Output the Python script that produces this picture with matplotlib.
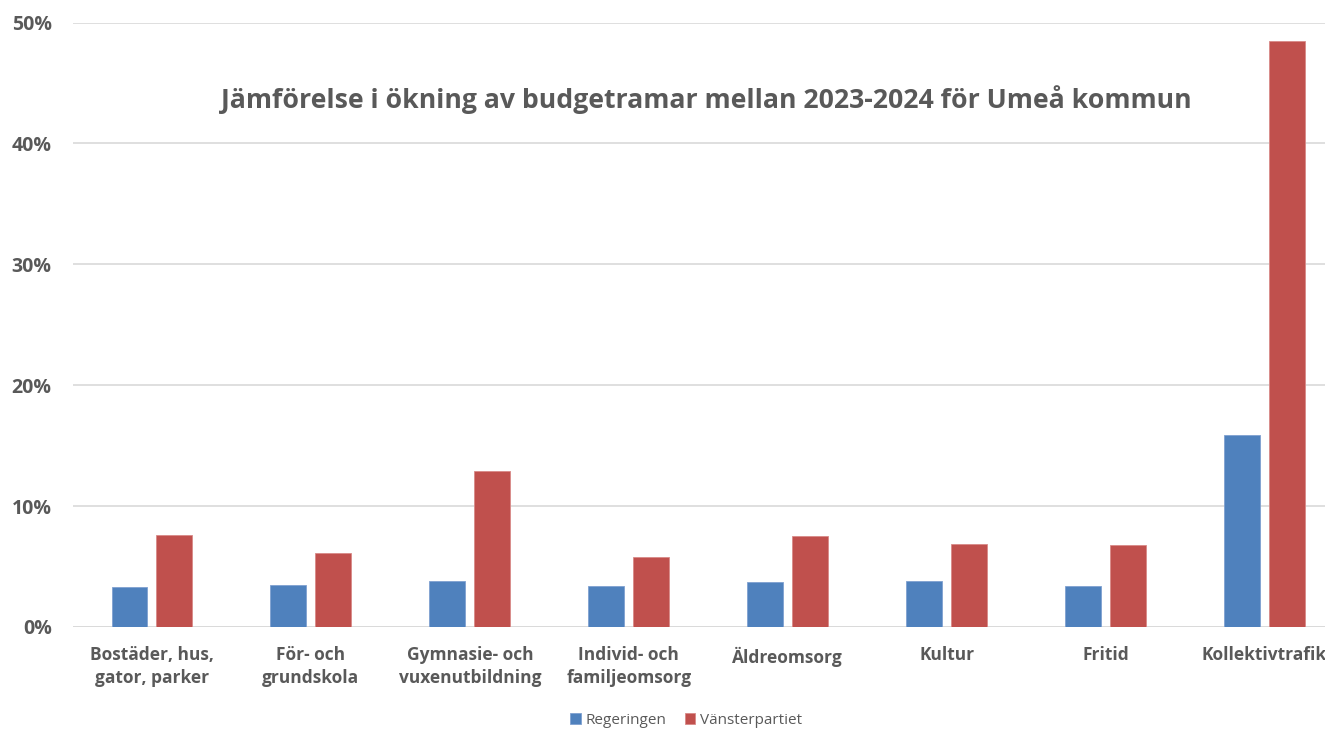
import matplotlib
matplotlib.use("Agg")
import matplotlib.pyplot as plt
import numpy as np
from matplotlib.ticker import FuncFormatter, MultipleLocator

categories = ["Bostäder, hus,\ngator, parker", "För- och\ngrundskola", "Gymnasie- och\nvuxenutbildning",
              "Individ- och\nfamiljeomsorg", "Äldreomsorg", "Kultur", "Fritid", "Kollektivtrafik"]
regeringen = [3.3, 3.5, 3.8, 3.4, 3.7, 3.8, 3.4, 15.9]
vansterpartiet = [7.6, 6.1, 12.9, 5.8, 7.5, 6.9, 6.75, 48.5]
series_names = ["Regeringen", "Vänsterpartiet"]
title = "Jämförelse i ökning av budgetramar mellan 2023-2024 för Umeå kommun"

plt.rcParams['font.family'] = ['Open Sans', 'DejaVu Sans']
W, H = 1325, 729
fig = plt.figure(figsize=(W / 100, H / 100), dpi=100)
left = 72.5 / W
right_px = 1344
ax = fig.add_axes([left, (H - 627) / H, (right_px - 72.5) / W, (627 - 22.5) / H])

x = np.arange(len(categories))
bw = 0.226
off = 0.1415
gray = "#595959"
ax.bar(x - off, regeringen, bw, color="#4F81BD", edgecolor="#7FA0D0", linewidth=0.6, label=series_names[0], zorder=3)
ax.bar(x + off, vansterpartiet, bw, color="#C0504D", edgecolor="#D98A88", linewidth=0.6, label=series_names[1], zorder=3)

ax.set_xlim(-0.5, len(categories) - 0.5)
ax.set_ylim(0, 50)
ax.yaxis.set_major_locator(MultipleLocator(10))
ax.yaxis.set_major_formatter(FuncFormatter(lambda v, p: f"{v:.0f}%"))
ax.grid(axis='y', color="#D9D9D9", linewidth=1.2, zorder=0)
for s in ax.spines.values():
    s.set_visible(False)
ax.axhline(0, color="#D9D9D9", linewidth=1.2, zorder=1)
ax.tick_params(axis='both', length=0)
ax.tick_params(axis='y', pad=15, labelsize=14, labelcolor=gray)
ax.tick_params(axis='x', pad=14, labelsize=12.5, labelcolor=gray)
ax.set_xticks(x)
ax.set_xticklabels(categories, linespacing=1.3)
for lbl in ax.get_xticklabels() + ax.get_yticklabels():
    lbl.set_fontweight('bold')

fig.text(706 / W, 1 - 100 / H, title, ha='center', va='center', fontsize=19.2,
         fontweight='bold', color=gray)

leg = fig.legend(loc='center', bbox_to_anchor=(686 / W, 1 - 720 / H), ncol=2, frameon=False,
                 fontsize=11, handlelength=0.7, handleheight=0.7, handletextpad=0.3,
                 columnspacing=1.2)
for t in leg.get_texts():
    t.set_color(gray)

fig.savefig("out.png", dpi=100)
